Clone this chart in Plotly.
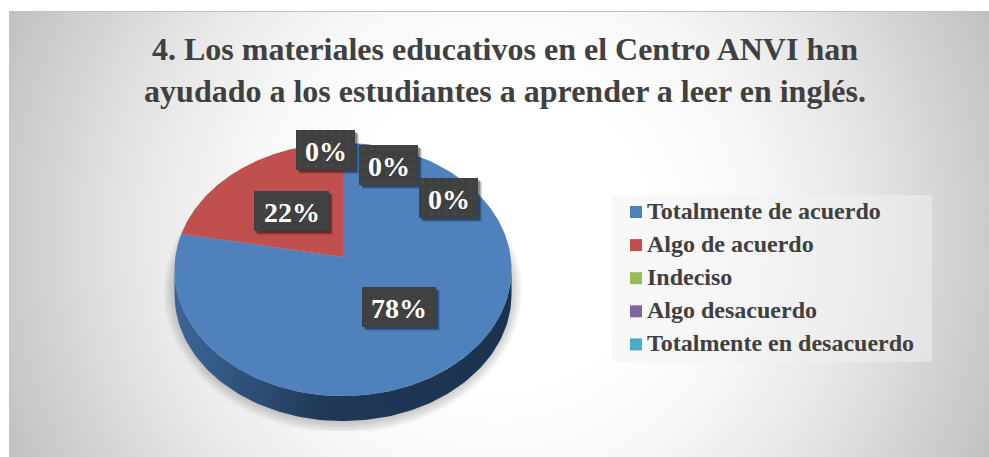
import numpy as np
import plotly.graph_objects as go

title = "4. Los materiales educativos en el Centro ANVI han<br>ayudado a los estudiantes a aprender a leer en inglés."
categories = ["Totalmente de acuerdo", "Algo de acuerdo", "Indeciso", "Algo desacuerdo", "Totalmente en desacuerdo"]
values = [78, 22, 0, 0, 0]
colors = ["#4f81bd", "#c0504d", "#9bbb59", "#8064a2", "#4bacc6"]

W, H = 989, 457
SERIF = "Liberation Serif"
TEXT = "#404040"

# pie geometry in window pixels (the top face is a circle seen in perspective)
CX, CY, S, A, K, APEX, DEPTH = 343, 269.5, 167.7, 125.3, 0.0989, 12.5, 25


def project(deg):
    t = np.radians(deg)
    u, v = np.sin(t), np.cos(t)
    return CX + S * u / (1 + K * v), CY - (A * v / (1 + K * v) + APEX)


def filled(x, y, **kw):
    return go.Scatter(x=x, y=y, xaxis="x2", yaxis="y2", mode="lines", line=dict(width=0),
                      fill="toself", hoverinfo="skip", showlegend=False, **kw)


fig = go.Figure()

# background: a 1200px square clipped by its axes, so the radial gradient stays round
bx_half, by_half = 600 / 490, 600 / 222.5
fig.add_trace(go.Scatter(
    x=[-bx_half, bx_half, bx_half, -bx_half, -bx_half], y=[-by_half, -by_half, by_half, by_half, -by_half],
    xaxis="x", yaxis="y", mode="lines", line=dict(width=0), fill="toself",
    fillgradient=dict(type="radial", colorscale=[
        [0, "#ffffff"], [0.25, "#ffffff"], [0.417, "#f8f8f8"], [0.593, "#e8e8e8"], [0.9, "#c0c0c0"], [1, "#bdbdbd"]]),
    hoverinfo="skip", showlegend=False))

# soft shadow under the pie: stacked see-through ellipses, cut flat at the bottom
t = np.linspace(0, 2 * np.pi, 181)
for grow in (12, 10, 8, 6, 4, 2):
    fig.add_trace(filled(
        CX + (167 + grow) * np.cos(t), np.minimum(291 + (130 + grow) * np.sin(t), 431),
        fillcolor="rgba(0,0,0,0.035)"))

# slices
start = 0
wedges = []
for name, val, col in zip(categories, values, colors):
    stop = start + val * 3.6
    if val > 0:
        px, py = project(np.linspace(start, stop, 200))
        # side wall for the part of the rim facing the viewer
        front = py >= CY
        if front.any():
            wx, wy = px[front], py[front]
            fig.add_trace(filled(
                np.r_[wx, wx[::-1]], np.r_[wy, wy[::-1] + DEPTH],
                fillgradient=dict(type="horizontal", colorscale=[
                    [0, "#3c6698"], [0.45, "#1f3855"], [1, "#1c3350"]])))
        wedges.append((name, px, py, col))
    start = stop

for name, px, py, col in wedges:
    fig.add_trace(filled(np.r_[CX, px, CX], np.r_[CY - APEX, py, CY - APEX], fillcolor=col, name=name))

# legend
annotations = []
for i, (name, col) in enumerate(zip(categories, colors)):
    ly = 212 + i * 33.1
    fig.add_trace(go.Scatter(
        x=[636], y=[ly], xaxis="x2", yaxis="y2", mode="markers",
        marker=dict(symbol="square", size=12, color=col), hoverinfo="skip", showlegend=False))
    annotations.append(dict(
        x=645, y=ly - 1, xref="x2", yref="y2", text=name, showarrow=False, xanchor="left",
        font=dict(family=SERIF, size=24, color=TEXT, weight="bold")))

# data labels: centre x, centre y, box width
label_boxes = [(399, 307, 74), (291.5, 211, 75), (325.5, 150, 59), (388.5, 165, 59), (448.5, 198, 59)]
for i, (bx, by, bw) in enumerate(label_boxes):
    x0, x1, y0, y1 = bx - bw / 2, bx + bw / 2, by - 20, by + 20
    for off, alpha in ((4, 0.12), (3, 0.18), (2, 0.25)):
        fig.add_trace(filled([x0 + off, x1 + off, x1 + off, x0 + off, x0 + off],
                             [y0 + off, y0 + off, y1 + off, y1 + off, y0 + off],
                             fillcolor=f"rgba(0,0,0,{alpha})"))
    fig.add_trace(filled([x0, x1, x1, x0, x0], [y0, y0, y1, y1, y0], fillcolor="#404040"))
    # dotted texture of the label box
    gx, gy = np.meshgrid(np.arange(x0 + 4, x1, 8), np.arange(y0 + 4, y1, 8))
    fig.add_trace(go.Scatter(
        x=gx.ravel(), y=gy.ravel(), xaxis="x2", yaxis="y2", mode="markers",
        marker=dict(size=2, color="#525252"), hoverinfo="skip", showlegend=False))
    annotations.append(dict(
        x=bx, y=by + 1, xref="x2", yref="y2", text=f"{values[i]}%", showarrow=False,
        font=dict(family=SERIF, size=28, color="#ffffff", weight="bold")))

shapes = [
    dict(type="rect", xref="x2", yref="y2", x0=612, x1=932, y0=195, y1=362,
         fillcolor="rgba(242,242,242,0.5)", line=dict(width=0), layer="below"),
    dict(type="line", xref="x2", yref="y2", x0=9, x1=989, y0=11.5, y1=11.5,
         line=dict(color="#bfbfbf", width=1)),
]

hidden = dict(visible=False, fixedrange=True)
fig.update_layout(
    width=W, height=H, margin=dict(l=0, r=0, t=0, b=0),
    paper_bgcolor="#ffffff", plot_bgcolor="rgba(0,0,0,0)", showlegend=False,
    title=dict(text=title, x=505 / W, xanchor="center", y=1 - 60 / H, yanchor="middle",
               font=dict(family=SERIF, size=32, color=TEXT, weight="bold")),
    xaxis=dict(domain=[9 / W, 1], range=[-1, 1], **hidden),
    yaxis=dict(domain=[0, 1 - 12 / H], range=[-1, 1], **hidden),
    xaxis2=dict(domain=[0, 1], range=[0, W], anchor="y2", **hidden),
    yaxis2=dict(domain=[0, 1], range=[H, 0], anchor="x2", **hidden),
    shapes=shapes, annotations=annotations)

fig.write_html("out.html", config=dict(displayModeBar=False),
               post_script="document.body.style.margin='0';")
